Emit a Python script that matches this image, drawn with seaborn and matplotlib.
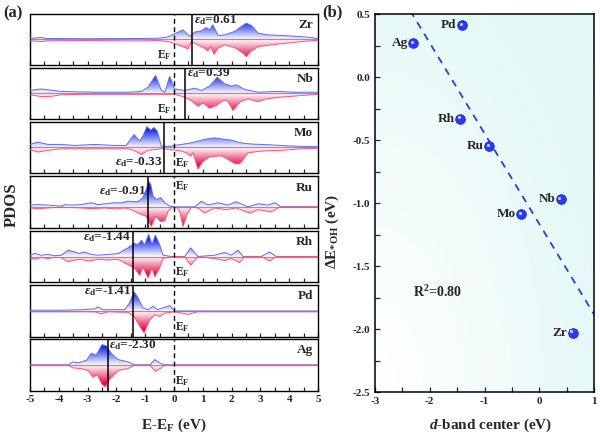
import numpy as np
import pandas as pd
import matplotlib
matplotlib.use("Agg")
import matplotlib.pyplot as plt
import matplotlib.transforms as mtransforms
from matplotlib.patches import PathPatch
from matplotlib.colors import to_rgb
import seaborn as sns

# ---------------- data ----------------
metals = ["Zr", "Nb", "Mo", "Ru", "Rh", "Pd", "Ag"]
eps_d = [0.61, 0.39, -0.33, -0.91, -1.44, -1.41, -2.30]          # d-band centres (eV)
dE_OH = [-2.03, -0.97, -1.09, -0.55, -0.33, 0.41, 0.27]           # ΔE*OH (eV)

E_zr_up = [-5.0, -4.61, -4.49, -4.38, -3.0, -1.2, -0.56, -0.21, 0.31, 0.55, 0.72, 0.95, 1.12, 1.24, 1.35, 1.53, 1.76, 2.11, 2.34, 2.51, 2.69, 2.92, 3.26, 3.73, 4.19, 4.77, 5.0]
dos_zr_up = [0.04, 0.08, 0.05, 0.04, 0.03, 0.04, 0.05, 0.10, 0.38, 0.12, 0.29, 0.34, 0.47, 0.38, 0.58, 0.16, 0.18, 0.32, 0.51, 0.64, 0.55, 0.25, 0.18, 0.16, 0.13, 0.08, 0.03]
E_zr_dn = [-5.0, -4.61, -4.38, -3.0, -1.25, -0.56, -0.21, 0.08, 0.31, 0.49, 0.60, 0.83, 1.06, 1.18, 1.27, 1.39, 1.53, 1.76, 2.11, 2.40, 2.51, 2.66, 2.92, 3.38, 3.96, 4.42, 5.0]
dos_zr_dn = [-0.05, -0.08, -0.05, -0.04, -0.06, -0.04, -0.08, -0.18, -0.28, -0.37, -0.08, -0.21, -0.34, -0.45, -0.28, -0.58, -0.34, -0.21, -0.32, -0.54, -0.67, -0.47, -0.28, -0.21, -0.14, -0.08, -0.03]

E_nb_up = [-5.0, -4.61, -4.26, -3.91, -2.75, -1.60, -1.13, -0.90, -0.64, -0.44, -0.32, -0.15, 0.02, 0.37, 0.72, 0.95, 1.24, 1.50, 1.76, 1.99, 2.16, 2.45, 2.92, 3.61, 4.19, 5.0]
dos_nb_up = [0.12, 0.18, 0.13, 0.08, 0.05, 0.05, 0.08, 0.25, 0.71, 0.12, 0.05, 0.67, 0.18, 0.12, 0.21, 0.12, 0.29, 0.64, 0.38, 0.29, 0.34, 0.16, 0.05, 0.08, 0.05, 0.05]
E_nb_dn = [-5.0, -4.61, -4.26, -3.91, -3.0, -0.5, 0.02, 0.37, 0.60, 0.83, 1.01, 1.24, 1.47, 1.70, 1.85, 2.05, 2.28, 2.57, 2.92, 3.21, 3.73, 4.42, 5.0]
dos_nb_dn = [-0.05, -0.12, -0.11, -0.05, -0.03, -0.03, -0.03, -0.14, -0.28, -0.50, -0.37, -0.58, -0.47, -0.28, -0.26, -0.67, -0.34, -0.21, -0.32, -0.21, -0.14, -0.08, -0.03]

E_mo_up = [-5.0, -4.72, -4.38, -3.91, -3.45, -2.75, -2.06, -1.66, -1.39, -1.19, -1.08, -0.94, -0.81, -0.69, -0.58, -0.44, -0.09, 0.02, 0.49, 0.83, 1.06, 1.41, 1.64, 1.99, 2.22, 2.45, 2.80, 3.26, 3.73, 4.19, 5.0]
dos_mo_up = [0.12, 0.21, 0.12, 0.12, 0.08, 0.12, 0.08, 0.08, 0.51, 0.25, 0.45, 0.82, 0.68, 0.78, 0.64, 0.05, 0.05, 0.08, 0.16, 0.25, 0.32, 0.38, 0.34, 0.29, 0.21, 0.16, 0.13, 0.11, 0.08, 0.05, 0.03]
E_mo_dn = [-5.0, -4.72, -4.38, -3.91, -1.60, -1.39, -1.13, -0.90, -0.44, -0.09, 0.25, 0.43, 0.58, 0.66, 0.83, 1.01, 1.24, 1.64, 1.88, 2.11, 2.28, 2.40, 2.57, 3.03, 3.73, 4.42, 5.0]
dos_mo_dn = [-0.08, -0.18, -0.11, -0.05, -0.05, -0.11, -0.28, -0.11, -0.05, -0.08, -0.14, -0.21, -0.34, -0.21, -0.84, -0.54, -0.37, -0.32, -0.47, -0.63, -0.64, -0.47, -0.21, -0.14, -0.11, -0.05, -0.03]

E_ru_up = [-5.0, -4.72, -4.38, -3.91, -3.80, -3.56, -3.22, -2.87, -2.64, -2.41, -2.06, -1.83, -1.60, -1.25, -1.08, -0.96, -0.88, -0.81, -0.73, -0.61, -0.46, -0.32, -0.15, 0.02, 0.72, 0.95, 1.18, 1.53, 1.88, 2.16, 2.57, 2.92, 3.26, 3.50, 3.73, 5.0]
dos_ru_up = [0.07, 0.09, 0.07, 0.03, 0.09, 0.07, 0.09, 0.16, 0.09, 0.12, 0.16, 0.16, 0.22, 0.20, 0.36, 0.68, 0.99, 0.88, 0.42, 0.29, 0.36, 0.16, 0.03, 0.0, 0.0, 0.22, 0.07, 0.16, 0.07, 0.20, 0.0, 0.12, 0.07, 0.16, 0.0, 0.0]
E_ru_dn = [-5.0, -4.72, -4.38, -3.91, -3.22, -2.87, -2.41, -2.06, -1.71, -1.48, -1.25, -0.96, -0.79, -0.64, -0.46, -0.32, -0.21, -0.09, 0.08, 0.20, 0.31, 0.46, 0.60, 0.83, 1.06, 1.41, 1.82, 2.16, 2.63, 2.92, 3.38, 3.67, 5.0]
dos_ru_dn = [-0.04, -0.07, -0.04, -0.01, -0.04, -0.07, -0.04, -0.08, -0.04, -0.11, -0.24, -0.37, -0.76, -0.37, -0.57, -0.54, -0.17, -0.04, 0.0, -0.17, -0.76, -0.28, -0.01, -0.04, -0.24, -0.04, -0.11, -0.04, -0.24, -0.11, -0.20, 0.0, 0.0]

E_rh_up = [-5.0, -4.84, -4.61, -4.38, -4.14, -3.91, -3.68, -3.45, -3.28, -3.10, -2.87, -2.64, -2.29, -1.94, -1.60, -1.39, -1.25, -1.13, -1.02, -0.88, -0.76, -0.65, -0.50, -0.38, -0.09, 0.37, 0.58, 0.83, 1.41, 1.76, 1.99, 2.22, 2.40, 3.03, 3.32, 3.55, 5.0]
dos_rh_up = [0.05, 0.12, 0.05, 0.08, 0.03, 0.05, 0.25, 0.18, 0.12, 0.18, 0.08, 0.05, 0.08, 0.12, 0.34, 0.51, 0.47, 0.64, 0.45, 0.87, 0.47, 0.84, 0.47, 0.05, 0.0, 0.0, 0.34, 0.0, 0.05, 0.16, 0.05, 0.25, 0.0, 0.0, 0.18, 0.0, 0.0]
E_rh_dn = [-5.0, -4.84, -4.61, -4.38, -4.14, -3.91, -3.68, -3.45, -3.22, -2.99, -2.64, -2.29, -1.94, -1.60, -1.37, -1.19, -1.08, -0.90, -0.76, -0.67, -0.50, -0.38, -0.09, 0.37, 0.58, 0.83, 1.41, 1.76, 1.99, 2.28, 2.45, 3.03, 3.32, 3.55, 5.0]
dos_rh_dn = [-0.05, -0.11, -0.03, -0.08, -0.03, -0.05, -0.21, -0.14, -0.11, -0.18, -0.11, -0.14, -0.11, -0.32, -0.45, -0.74, -0.41, -0.84, -0.45, -0.80, -0.45, -0.08, 0.0, 0.0, -0.34, 0.0, -0.08, -0.16, -0.08, -0.24, 0.0, 0.0, -0.18, 0.0, 0.0]

E_pd_up = [-5.0, -3.91, -3.22, -2.75, -2.64, -2.47, -2.06, -1.71, -1.54, -1.39, -1.25, -1.08, -0.90, -0.73, -0.56, -0.38, -0.15, 0.02, 5.0]
dos_pd_up = [0.03, 0.03, 0.05, 0.08, 0.16, 0.05, 0.05, 0.05, 0.32, 0.74, 0.51, 0.12, 0.05, 0.18, 0.05, 0.12, 0.21, 0.0, 0.0]
E_pd_dn = [-5.0, -2.75, -2.52, -2.29, -1.60, -1.39, -1.19, -1.04, -0.84, -0.67, -0.50, -0.32, 0.02, 0.49, 0.83, 5.0]
dos_pd_dn = [-0.03, -0.03, -0.11, -0.03, -0.05, -0.21, -0.58, -0.84, -0.34, -0.14, -0.21, -0.08, -0.03, -0.13, -0.03, -0.03]

E_ag_up = [-5.0, -3.68, -3.51, -3.33, -3.04, -2.87, -2.70, -2.50, -2.35, -2.18, -1.94, -1.60, -1.37, -0.84, -0.67, -0.50, -0.32, 5.0]
dos_ag_up = [0.0, 0.0, 0.12, 0.08, 0.18, 0.45, 0.38, 0.78, 0.74, 0.45, 0.21, 0.12, 0.0, 0.0, 0.21, 0.08, 0.0, 0.0]
E_ag_dn = [-5.0, -3.68, -3.51, -3.22, -2.99, -2.81, -2.67, -2.50, -2.38, -2.23, -1.94, -1.60, -1.37, -0.84, -0.65, -0.44, -0.32, 5.0]
dos_ag_dn = [0.0, 0.0, -0.11, -0.14, -0.21, -0.47, -0.37, -0.74, -0.84, -0.54, -0.21, -0.14, 0.0, 0.0, -0.24, -0.11, 0.0, 0.0]

pdos = {
    "Zr": (E_zr_up, dos_zr_up, E_zr_dn, dos_zr_dn),
    "Nb": (E_nb_up, dos_nb_up, E_nb_dn, dos_nb_dn),
    "Mo": (E_mo_up, dos_mo_up, E_mo_dn, dos_mo_dn),
    "Ru": (E_ru_up, dos_ru_up, E_ru_dn, dos_ru_dn),
    "Rh": (E_rh_up, dos_rh_up, E_rh_dn, dos_rh_dn),
    "Pd": (E_pd_up, dos_pd_up, E_pd_dn, dos_pd_dn),
    "Ag": (E_ag_up, dos_ag_up, E_ag_dn, dos_ag_dn),
}

# ---------------- style ----------------
sns.set_style("ticks")
plt.rcParams.update({
    "font.family": ["Liberation Serif", "DejaVu Serif"],
    "font.weight": "bold",
    "axes.labelweight": "bold",
    "axes.unicode_minus": False,
    "mathtext.fontset": "custom",
    "mathtext.rm": "Liberation Serif:bold",
    "mathtext.it": "Liberation Serif:italic:bold",
    "mathtext.bf": "Liberation Serif:bold",
    "xtick.direction": "in",
    "ytick.direction": "in",
    "axes.linewidth": 1.0,
    "axes.edgecolor": "black",
})

W, H = 600, 436
fig = plt.figure(figsize=(6.0, 4.36), dpi=100)


def px_axes(l, t, r, b):
    return fig.add_axes([l / W, 1 - b / H, (r - l) / W, (b - t) / H])


BLUE_LINE = "#5b6cf5"
BLUE_FILL = "#1428e6"
RED_LINE = "#f2557a"
RED_FILL = "#e60a45"


def grad_fill(ax, x, y, colour, ylim, up):
    coll = ax.fill_between(x, 0, y, facecolor="none", edgecolor="none")
    path = coll.get_paths()[0]
    patch = PathPatch(path, transform=ax.transData, facecolor="none", edgecolor="none")
    ax.add_patch(patch)
    n = 300
    yy = np.linspace(ylim[0], ylim[1], n)
    a = np.clip(np.abs(yy) / 0.70, 0, 1) ** 1.0
    if up:
        a[yy < 0] = 0
    else:
        a[yy > 0] = 0
    img = np.zeros((n, 2, 4))
    img[..., :3] = to_rgb(colour)
    img[..., 3] = a[:, None]
    im = ax.imshow(img, extent=[-5, 5, ylim[0], ylim[1]], origin="lower",
                   aspect="auto", interpolation="bilinear", zorder=1)
    im.set_clip_path(patch)


panel_px = [(14, 65), (68, 119), (122, 173), (176, 228), (231, 282), (285, 337), (339, 391)]
ylims = {m: (-1.0, 1.0) for m in metals}
ylims["Ru"] = (-0.82, 1.2)

# label placements: (x, y, ha) for eps label, E_F label
eps_pos = {"Zr": (0.69, 0.78, "left"), "Nb": (0.45, 0.80, "left"), "Mo": (-0.39, -0.58, "right"),
           "Ru": (-0.97, 0.62, "right"), "Rh": (-1.50, 0.78, "right"), "Pd": (-1.47, 0.78, "right"),
           "Ag": (-2.24, 0.78, "left")}
ef_pos = {"Zr": (-0.07, -0.60, "right"), "Nb": (-0.07, -0.60, "right"), "Mo": (0.05, -0.60, "left"),
          "Ru": (0.05, 0.82, "left"), "Rh": (0.05, -0.60, "left"), "Pd": (0.05, -0.60, "left"),
          "Ag": (0.05, -0.60, "left")}

for i, (m, (t, b)) in enumerate(zip(metals, panel_px)):
    ax = px_axes(30, t, 318, b)
    Eu, du, Ed, dd = pdos[m]
    yl = ylims[m]
    grad_fill(ax, Eu, du, BLUE_FILL, yl, True)
    grad_fill(ax, Ed, dd, RED_FILL, yl, False)
    ax.axhline(0, color="#f46a8a", lw=0.9, zorder=2)
    sns.lineplot(x=Eu, y=du, ax=ax, color=BLUE_LINE, lw=0.7, zorder=3, legend=False)
    sns.lineplot(x=Ed, y=dd, ax=ax, color=RED_LINE, lw=0.7, zorder=3, legend=False)
    ax.axvline(0, color="black", lw=1.0, ls=(0, (3.5, 2.5)), zorder=4)
    ax.axvline(eps_d[i], color="black", lw=1.1, zorder=4)
    ax.set_xlim(-5, 5)
    ax.set_ylim(*yl)
    ax.set_yticks([])
    ax.set_xticks(np.arange(-5, 5.01, 1))
    ax.set_xticks(np.arange(-4.5, 5, 1), minor=True)
    ax.tick_params(axis="x", which="both", length=3, width=0.9, top=False)
    ax.set_xlabel("")
    ax.set_ylabel("")
    if i < len(metals) - 1:
        ax.set_xticklabels([])
    else:
        ax.set_xticklabels([f"{v:d}" for v in range(-5, 6)], fontsize=8, fontweight="bold")
        ax.tick_params(axis="x", pad=3)
    ex, ey, eha = eps_pos[m]
    ax.text(ex, ey, r"$\varepsilon_{\mathrm{d}}$" + f"={eps_d[i]:.2f}", ha=eha, va="center",
            fontsize=9.5, fontweight="bold", zorder=5)
    fx, fy, fha = ef_pos[m]
    ax.text(fx, fy, r"E$_{\mathrm{F}}$", ha=fha, va="center", fontsize=8.5, fontweight="bold", zorder=5)
    ax.text(4.83, 0.56 if m != "Ru" else 0.74, m, ha="right", va="center", fontsize=9.5,
            fontweight="bold", zorder=5)
    for s in ax.spines.values():
        s.set_linewidth(1.0)

fig.text(12 / W, 1 - 205 / H, "PDOS", rotation=90, ha="center", va="center", fontsize=12, fontweight="bold")
fig.text(174 / W, 1 - 425 / H, r"E-E$_{\mathrm{F}}$ (eV)", ha="center", va="center", fontsize=11, fontweight="bold")
fig.text(3 / W, 1 - 13 / H, "(a)", ha="left", va="center", fontsize=12, fontweight="bold")
fig.text(322 / W, 1 - 12 / H, "(b)", ha="left", va="center", fontsize=12, fontweight="bold")

# ---------------- panel (b) ----------------
axb = px_axes(375, 14, 594, 392)
axb.set_xlim(-3, 1)
axb.set_ylim(-2.5, 0.5)
# background gradient
gx = np.linspace(0, 1, 200)
gy = np.linspace(0, 1, 200)
GX, GY = np.meshgrid(gx, gy)
tgrad = np.clip(np.sqrt((GX * 1.0) ** 2 + (GY * 0.9) ** 2) / 1.1, 0, 1) ** 1.1
c0 = np.array([1.0, 1.0, 1.0])
c1 = np.array(to_rgb("#e3f9f7"))
bg = c0[None, None, :] * (1 - tgrad[..., None]) + c1[None, None, :] * tgrad[..., None]
axb.imshow(bg, extent=[-3, 1, -2.5, 0.5], origin="lower", aspect="auto", zorder=0, interpolation="bilinear")

df = pd.DataFrame({"metal": metals, "dband": eps_d, "dE": dE_OH})
sns.regplot(data=df, x="dband", y="dE", ax=axb, scatter=False, ci=None, truncate=False,
            line_kws=dict(color="#2440e0", lw=1.3, ls=(0, (4, 3.5))))
sns.scatterplot(data=df, x="dband", y="dE", ax=axb, s=48, color="#2a3af2", edgecolor="#1a28d8",
                linewidth=0.6, zorder=5, legend=False)
hl = mtransforms.offset_copy(axb.transData, fig=fig, x=-1.0, y=1.0, units="points")
axb.scatter(df["dband"], df["dE"], s=5, color="#c9d2ff", transform=hl, zorder=6, linewidths=0)
for _, r in df.iterrows():
    axb.annotate(r["metal"], (r["dband"], r["dE"]), xytext=(-4, 0), textcoords="offset points",
                 ha="right", va="center", fontsize=9.5, fontweight="bold", zorder=7)

r2 = np.corrcoef(eps_d, dE_OH)[0, 1] ** 2
axb.text(-2.31, -1.71, r"R$^{\mathrm{2}}$" + f"={r2:.2f}", ha="left", va="center", fontsize=10, fontweight="bold")

axb.set_xlim(-3, 1)
axb.set_ylim(-2.5, 0.5)
axb.set_xticks([-3, -2, -1, 0, 1])
axb.set_xticklabels(["-3", "-2", "-1", "0", "1"], fontsize=8, fontweight="bold")
axb.set_xticks(np.arange(-2.5, 1, 1), minor=True)
axb.set_yticks([-2.5, -2.0, -1.5, -1.0, -0.5, 0.0, 0.5])
axb.set_yticklabels(["-2.5", "-2.0", "-1.5", "-1.0", "-0.5", "0.0", "0.5"], fontsize=8, fontweight="bold")
axb.set_yticks(np.arange(-2.25, 0.5, 0.5), minor=True)
axb.tick_params(which="both", length=3.5, width=0.9, top=False, right=False)
axb.set_xlabel("")
axb.set_ylabel("")
fig.text(491 / W, 1 - 425 / H, r"$d$-band center (eV)", ha="center", va="center", fontsize=11, fontweight="bold")
fig.text(332 / W, 1 - 231 / H, r"ΔE$_{\mathrm{*OH}}$ (eV)", rotation=90, ha="center", va="center",
         fontsize=11, fontweight="bold")
for s in axb.spines.values():
    s.set_linewidth(1.1)

fig.savefig("out.png", dpi=100)
